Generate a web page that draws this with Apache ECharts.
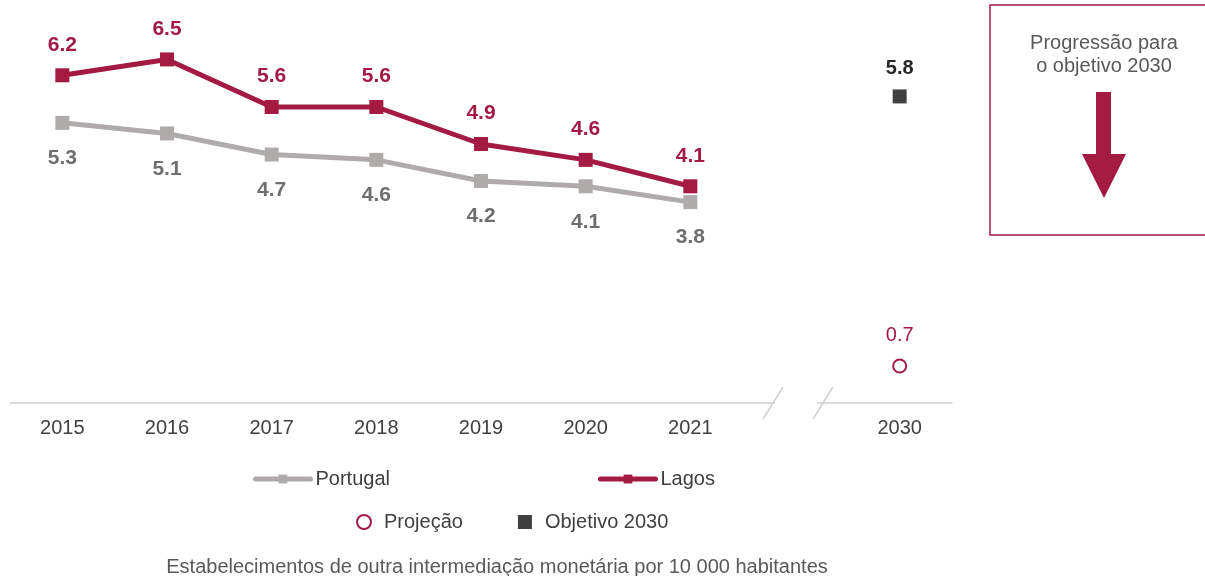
<!DOCTYPE html>
<html>
<head>
<meta charset="utf-8">
<script src="https://cdn.jsdelivr.net/npm/echarts@6/dist/echarts.min.js"></script>
<style>
  html, body { margin: 0; padding: 0; background: #fff; }
  #chart { width: 1205px; height: 576px; }
</style>
</head>
<body>
<div id="chart"></div>
<script>
const years = ["2015", "2016", "2017", "2018", "2019", "2020", "2021", "", "2030"];
const portugal = [5.3, 5.1, 4.7, 4.6, 4.2, 4.1, 3.8, null, null];
const lagos = [6.2, 6.5, 5.6, 5.6, 4.9, 4.6, 4.1, null, null];
const projecao = [null, null, null, null, null, null, null, null, 0.7];
const objetivo = [null, null, null, null, null, null, null, null, 5.8];

const CRIMSON = "#A31A43";
const GREY = "#AFABAB";
const FONT = "Liberation Sans, Arial, sans-serif";

const chart = echarts.init(document.getElementById("chart"));

chart.setOption({
  animation: false,
  textStyle: { fontFamily: FONT },
  grid: { left: 10, right: 253, top: 33, bottom: 173 },
  xAxis: {
    type: "category",
    data: years,
    boundaryGap: true,
    axisLine: { lineStyle: { color: "#D0D0D0", width: 1.5 } },
    axisTick: { show: false },
    axisLabel: { color: "#404040", fontSize: 20, margin: 15, fontFamily: FONT },
  },
  yAxis: { type: "value", min: 0, max: 7, show: false, splitLine: { show: false } },
  legend: [
    {
      data: ["Portugal", "Lagos"],
      top: 464,
      left: 248,
      itemWidth: 55,
      itemHeight: 11,
      itemGap: 208,
      lineStyle: { width: 5, cap: "round" },
      textStyle: { color: "#404040", fontSize: 20, fontFamily: FONT },
    },
    {
      data: [
        { name: "Projeção", icon: "circle", itemStyle: { color: "#fff", borderColor: CRIMSON, borderWidth: 2 } },
        { name: "Objetivo 2030", icon: "rect" },
      ],
      top: 507,
      left: 351,
      itemWidth: 14,
      itemHeight: 14,
      itemGap: 55,
      textStyle: { color: "#404040", fontSize: 20, fontFamily: FONT, padding: [0, 0, 0, 8] },
    },
  ],
  series: [
    {
      name: "Portugal",
      type: "line",
      data: portugal,
      color: GREY,
      symbol: "rect",
      symbolSize: 14,
      lineStyle: { width: 5, color: GREY },
      itemStyle: { color: GREY },
      label: {
        show: true,
        position: "bottom",
        distance: 18,
        color: "#6E6E6E",
        fontSize: 21,
        fontWeight: "bold",
        fontFamily: FONT,
      },
      z: 2,
    },
    {
      name: "Lagos",
      type: "line",
      data: lagos,
      color: CRIMSON,
      symbol: "rect",
      symbolSize: 14,
      lineStyle: { width: 5, color: CRIMSON },
      itemStyle: { color: CRIMSON },
      label: {
        show: true,
        position: "top",
        distance: 13,
        color: CRIMSON,
        fontSize: 21,
        fontWeight: "bold",
        fontFamily: FONT,
      },
      z: 3,
    },
    {
      name: "Projeção",
      type: "line",
      data: projecao,
      color: CRIMSON,
      symbol: "emptyCircle",
      symbolSize: 13,
      showAllSymbol: true,
      lineStyle: { width: 0 },
      itemStyle: { color: CRIMSON, borderWidth: 2 },
      label: {
        show: true,
        position: "top",
        distance: 13,
        color: CRIMSON,
        fontSize: 20,
        fontFamily: FONT,
      },
    },
    {
      name: "Objetivo 2030",
      type: "line",
      data: objetivo,
      color: "#404040",
      symbol: "rect",
      symbolSize: 14,
      lineStyle: { width: 0 },
      itemStyle: { color: "#404040" },
      label: {
        show: true,
        position: "top",
        distance: 11,
        color: "#262626",
        fontSize: 20,
        fontWeight: "bold",
        fontFamily: FONT,
      },
    },
  ],
});

// axis break (gap between 2021 and 2030) + side box, placed from the axis scale
const y0 = chart.convertToPixel({ yAxisIndex: 0 }, 0);
const xGap = chart.convertToPixel({ xAxisIndex: 0 }, 7);
chart.setOption({
  graphic: [
    { type: "rect", shape: { x: xGap - 20, y: y0 - 4, width: 42, height: 8 }, style: { fill: "#fff" }, z: 50 },
    { type: "line", shape: { x1: xGap - 32, y1: y0 + 16, x2: xGap - 12, y2: y0 - 16 }, style: { stroke: "#D0D0D0", lineWidth: 1.5 }, z: 51 },
    { type: "line", shape: { x1: xGap + 18, y1: y0 + 16, x2: xGap + 38, y2: y0 - 16 }, style: { stroke: "#D0D0D0", lineWidth: 1.5 }, z: 51 },
    { type: "rect", shape: { x: 990, y: 5, width: 230, height: 230 }, style: { fill: "none", stroke: CRIMSON, lineWidth: 1.5 }, z: 10 },
    {
      type: "text",
      style: {
        text: "Progressão para\no objetivo 2030",
        x: 1104,
        y: 32,
        align: "center",
        fill: "#595959",
        fontSize: 20,
        lineHeight: 23,
        fontFamily: FONT,
      },
      z: 10,
    },
    {
      type: "polygon",
      shape: {
        points: [[1096, 92], [1111, 92], [1111, 154], [1126, 154], [1104, 198], [1082, 154], [1096, 154]],
      },
      style: { fill: CRIMSON },
      z: 10,
    },
    {
      type: "text",
      style: {
        text: "Estabelecimentos de outra intermediação monetária por 10 000 habitantes",
        x: 497,
        y: 557,
        align: "center",
        fill: "#595959",
        fontSize: 20,
        fontFamily: FONT,
      },
    },
  ],
});
</script>
</body>
</html>
